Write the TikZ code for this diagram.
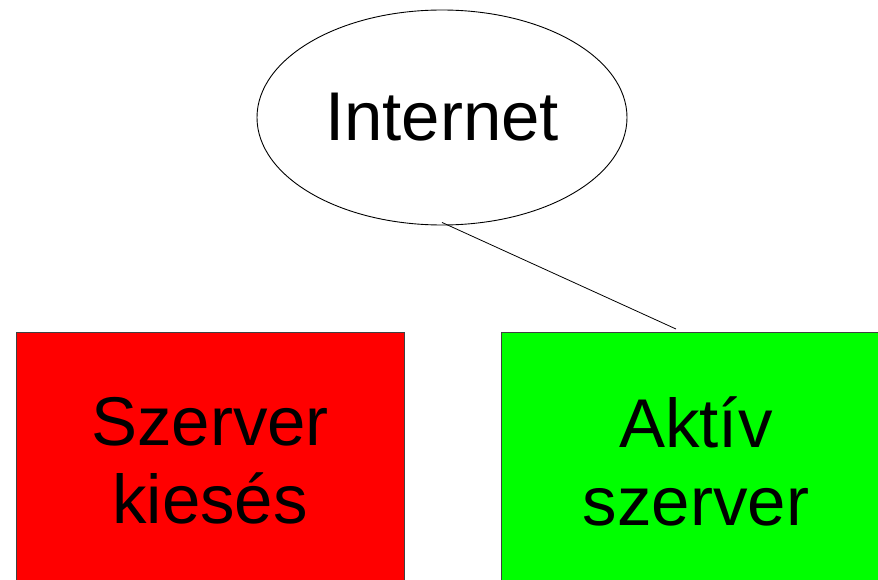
\documentclass[tikz,border=0pt]{standalone}
\usepackage{fontspec}
\setmainfont{Liberation Sans}
\usetikzlibrary{shapes.geometric,positioning}
\tikzset{every node/.style={font=\fontsize{69}{78}\selectfont, align=center}}
\tikzset{netnode/.style={ellipse, draw=black, line width=0.9pt, minimum width=370pt, minimum height=215pt}}
\tikzset{failbox/.style={rectangle, draw=black!75, line width=0.9pt, fill=red, minimum width=388pt, minimum height=258pt}}
\tikzset{livebox/.style={rectangle, draw=black!75, line width=0.9pt, fill=green, minimum width=388pt, minimum height=258pt}}

\begin{document}
\begin{tikzpicture}[x=1pt,y=1pt]
\useasboundingbox (0,0) rectangle (878,-580);
\clip (0,0) rectangle (878,-580);
\node[netnode] (inet) at (442,-117.5) {Internet};
\node[failbox] (fail) at (210,-461) {Szerver\\kiesés};
\node[livebox, right=97pt of fail] (live) {Aktív\\szerver};
\coordinate (tip) at (676,-329);
\draw[line width=0.8pt] ([yshift=3pt]inet.south) -- (tip);
\end{tikzpicture}
\end{document}
